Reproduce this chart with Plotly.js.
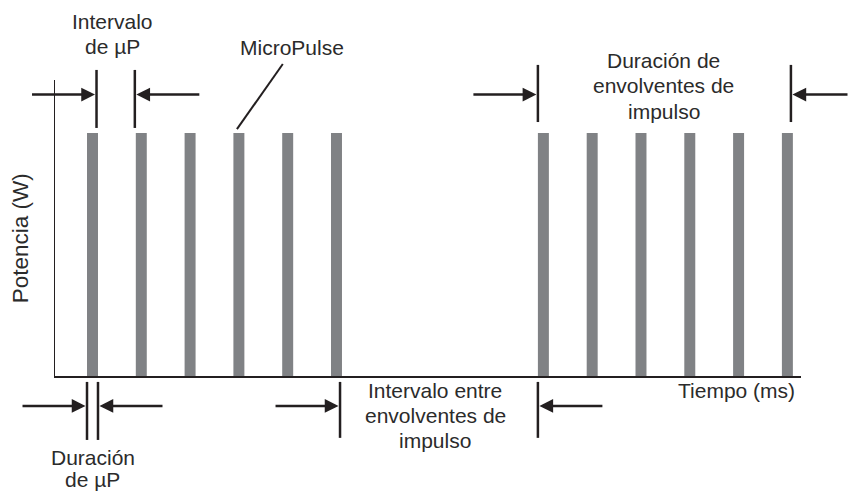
<!DOCTYPE html>
<html>
<head>
<meta charset="utf-8">
<script src="https://cdn.plot.ly/plotly-3.0.1.min.js"></script>
<style>html,body{margin:0;padding:0;background:#fff;}#chart{width:849px;height:493px;}</style>
</head>
<body>
<div id="chart"></div>
<script>
// ---- data ----
const pulseTimes = [1, 2, 3, 4, 5, 6, 10.24, 11.24, 12.24, 13.24, 14.24, 15.24];
const pulsePower = [1, 1, 1, 1, 1, 1, 1, 1, 1, 1, 1, 1];
const xAxisLabel = 'Tiempo (ms)';
const yAxisLabel = 'Potencia (W)';
const labelIntervalUP = ['Intervalo', 'de µP'];
const labelMicroPulse = ['MicroPulse'];
const labelEnvDuration = ['Duración de', 'envolventes de', 'impulso'];
const labelEnvInterval = ['Intervalo entre', 'envolventes de', 'impulso'];
const labelUPDuration = ['Duración', 'de µP'];

// ---- styling ----
const barWidth = 0.225;
const hw = barWidth / 2;
const ink = '#231f20';
const textColor = '#2b2b2b';
const fam = 'Liberation Sans, Arial, Helvetica, sans-serif';
const font = {family: fam, size: 21, color: textColor};
const lineStep = 0.0861; // paper units between text lines

const trace = {
  type: 'bar',
  x: pulseTimes,
  y: pulsePower,
  width: barWidth,
  marker: {color: '#808285', line: {width: 0}},
  hoverinfo: 'skip'
};

function vline(x, y0, y1) {
  return {type: 'line', xref: 'x', yref: 'paper', x0: x, x1: x, y0: y0, y1: y1,
          line: {color: ink, width: 2.5}, layer: 'above'};
}
function arrow(x, y, dir) {
  return {xref: 'x', yref: 'paper', x: x, y: y, text: '', showarrow: true,
          axref: 'pixel', ayref: 'pixel', ax: -dir * 66, ay: 0,
          arrowhead: 2, arrowsize: 1.1, arrowwidth: 2.5, arrowcolor: ink, standoff: 1.5};
}
function block(lines, x, yFirst, xref, opts, step) {
  const s = step || lineStep;
  return lines.map((t, i) => Object.assign({
    xref: xref || 'x', yref: 'paper', x: x, y: yFirst - i * s, text: t, showarrow: false,
    font: font, xanchor: 'center', yanchor: 'middle', align: 'center', borderpad: 0}, opts || {}));
}

const p = pulseTimes;
const topY = 0.951, botY = -0.101;

const shapes = [
  vline(p[0] + hw - 0.03, 0.838, 1.034),
  vline(p[1] - hw - 0.02, 0.838, 1.034),
  vline(p[6] - hw, 0.858, 1.051),
  vline(p[11] + hw - 0.04, 0.858, 1.051),
  vline(p[0] - hw, -0.020, -0.216),
  vline(p[0] + hw, -0.020, -0.216),
  vline(p[5] + hw - 0.04, -0.020, -0.209),
  vline(p[6] - hw, -0.020, -0.209),
  {type: 'line', xref: 'x', yref: 'paper', x0: p[3] - 0.04, x1: p[3] + 0.9, y0: 0.834, y1: 1.054,
   line: {color: ink, width: 2}, layer: 'above'}
];

const annotations = [
  arrow(p[0] + hw - 0.03, topY, 1),
  arrow(p[1] - hw - 0.02, topY, -1),
  arrow(p[6] - hw, topY, 1),
  arrow(p[11] + hw - 0.04, topY, -1),
  arrow(p[0] - hw, botY, 1),
  arrow(p[0] + hw, botY, -1),
  arrow(p[5] + hw - 0.04, botY, 1),
  arrow(p[6] - hw, botY, -1)
].concat(
  block(labelIntervalUP, (p[0] + p[1]) / 2 - 0.08, 1.1976),
  block(labelMicroPulse, p[3] + 1.09, 1.1098),
  block(labelEnvDuration, (p[6] + p[11]) / 2 - 0.03, 1.0659),
  block(labelEnvInterval, (p[5] + p[6]) / 2 - 0.1, -0.0473),
  block(labelUPDuration, p[0], -0.2770, 'x', null, 0.0710),
  block([xAxisLabel], 0.993, -0.049, 'paper', {xanchor: 'right'}),
  block([yAxisLabel], -0.047, 0.465, 'paper', {textangle: -90, font: {family: fam, size: 22.5, color: textColor}})
);

const layout = {
  width: 849, height: 493,
  margin: {l: 55, r: 48, t: 80, b: 117},
  paper_bgcolor: '#ffffff', plot_bgcolor: '#ffffff',
  showlegend: false,
  hovermode: false,
  font: font,
  xaxis: {range: [0.2316, 15.519], showline: true, linecolor: ink, linewidth: 1.5,
          showgrid: false, zeroline: false, showticklabels: false, ticks: '', fixedrange: true},
  yaxis: {range: [0, 1.218], showline: true, linecolor: ink, linewidth: 1.5,
          showgrid: false, zeroline: false, showticklabels: false, ticks: '', fixedrange: true},
  shapes: shapes,
  annotations: annotations
};

Plotly.newPlot('chart', [trace], layout, {displayModeBar: false, staticPlot: true});
</script>
</body>
</html>
